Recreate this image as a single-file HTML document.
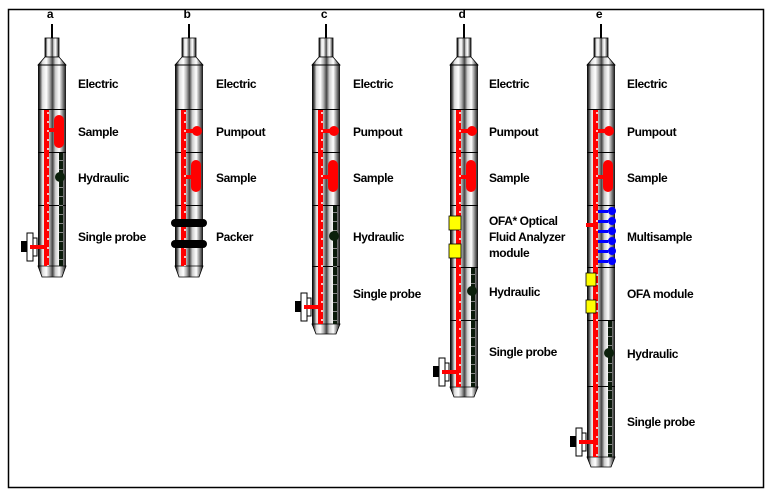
<!DOCTYPE html>
<html><head><meta charset="utf-8"><style>
html,body{margin:0;padding:0;background:#fff;}
svg{display:block;}
text{font-family:"Liberation Sans",Arial,sans-serif;font-weight:bold;font-size:12px;letter-spacing:-0.4px;fill:#000;}
</style></head><body>
<svg width="775" height="495" viewBox="0 0 775 495" xmlns="http://www.w3.org/2000/svg">
<defs>
<linearGradient id="m" x1="0" x2="1" y1="0" y2="0">
<stop offset="0" stop-color="#000"/><stop offset="0.07" stop-color="#444"/><stop offset="0.16" stop-color="#ddd"/>
<stop offset="0.3" stop-color="#fff"/><stop offset="0.42" stop-color="#aaa"/><stop offset="0.52" stop-color="#444"/>
<stop offset="0.62" stop-color="#ccc"/><stop offset="0.76" stop-color="#fff"/><stop offset="0.9" stop-color="#777"/><stop offset="1" stop-color="#111"/>
</linearGradient>
<g id="top">
<rect x="-1" y="24" width="2" height="14" fill="#000"/>
<rect x="-7" y="38" width="14" height="19" fill="url(#m)" stroke="#000" stroke-width="0.8"/>
<polygon points="-7,57 7,57 14,65 -14,65" fill="url(#m)" stroke="#000" stroke-width="0.8"/>
</g>
<g id="probe">
<rect x="-28" y="-4" width="7" height="11" fill="#000"/>
<rect x="-22" y="-12" width="6" height="28" fill="#fff" stroke="#000" stroke-width="1"/>
<rect x="-16" y="-7" width="4" height="18" fill="#fff" stroke="#000" stroke-width="1"/>
<rect x="-19" y="0" width="14" height="4" fill="#f00"/>
</g>
</defs>
<rect x="8.5" y="9.5" width="755" height="478" fill="none" stroke="#000" stroke-width="1.5"/>

<!-- Tool a -->
<g transform="translate(52,0)">
<text x="-2" y="18" text-anchor="middle">a</text>
<use href="#top"/>
<rect x="-14" y="65" width="28" height="201" fill="url(#m)"/>
<polygon points="-14,266 14,266 10,277 -10,277" fill="url(#m)" stroke="#000" stroke-width="0.8"/>
<line x1="-14" y1="65" x2="14" y2="65" stroke="#000"/>
<line x1="-14" y1="109.5" x2="14" y2="109.5" stroke="#000"/>
<line x1="-14" y1="152.5" x2="14" y2="152.5" stroke="#000"/>
<line x1="-14" y1="205.5" x2="14" y2="205.5" stroke="#000"/>
<rect x="-8" y="110" width="5" height="156" fill="#f00"/>
<line x1="-4" y1="112" x2="-4" y2="266" stroke="#fff" stroke-width="1.5" stroke-dasharray="2,7"/>
<rect x="7" y="153" width="4" height="113" fill="#0a1a0a"/>
<line x1="9" y1="160" x2="9" y2="266" stroke="#888" stroke-width="4" stroke-dasharray="1,8"/>
<rect x="-3" y="128" width="8" height="4" fill="#f00"/>
<rect x="2" y="115" width="10" height="33" rx="5" fill="#f00"/>
<circle cx="8" cy="177" r="5" fill="#0b200b"/>
<use href="#probe" transform="translate(-3,245)"/>
</g>
<text x="78" y="88">Electric</text><text x="78" y="136">Sample</text><text x="78" y="182">Hydraulic</text><text x="78" y="241">Single probe</text>

<!-- Tool b -->
<g transform="translate(189,0)">
<text x="-2" y="18" text-anchor="middle">b</text>
<use href="#top"/>
<rect x="-14" y="65" width="28" height="201" fill="url(#m)"/>
<polygon points="-14,266 14,266 10,277 -10,277" fill="url(#m)" stroke="#000" stroke-width="0.8"/>
<line x1="-14" y1="65" x2="14" y2="65" stroke="#000"/>
<line x1="-14" y1="109.5" x2="14" y2="109.5" stroke="#000"/>
<line x1="-14" y1="152.5" x2="14" y2="152.5" stroke="#000"/>
<line x1="-14" y1="205.5" x2="14" y2="205.5" stroke="#000"/>
<rect x="-8" y="110" width="5" height="156" fill="#f00"/>
<line x1="-4" y1="112" x2="-4" y2="266" stroke="#fff" stroke-width="1.5" stroke-dasharray="2,7"/>
<rect x="-3" y="129" width="10" height="4" fill="#f00"/>
<circle cx="8" cy="131" r="5" fill="#f00"/>
<rect x="-3" y="175" width="8" height="4" fill="#f00"/>
<rect x="2" y="160" width="10" height="32" rx="5" fill="#f00"/>
<rect x="-18" y="219" width="36" height="8" rx="4" fill="#000"/>
<rect x="-18" y="240" width="36" height="8" rx="4" fill="#000"/>
</g>
<text x="216" y="88">Electric</text><text x="216" y="136">Pumpout</text><text x="216" y="182">Sample</text><text x="216" y="241">Packer</text>

<!-- Tool c -->
<g transform="translate(326,0)">
<text x="-2" y="18" text-anchor="middle">c</text>
<use href="#top"/>
<rect x="-14" y="65" width="28" height="259" fill="url(#m)"/>
<polygon points="-14,324 14,324 10,334 -10,334" fill="url(#m)" stroke="#000" stroke-width="0.8"/>
<line x1="-14" y1="65" x2="14" y2="65" stroke="#000"/>
<line x1="-14" y1="109.5" x2="14" y2="109.5" stroke="#000"/>
<line x1="-14" y1="152.5" x2="14" y2="152.5" stroke="#000"/>
<line x1="-14" y1="205.5" x2="14" y2="205.5" stroke="#000"/>
<line x1="-14" y1="266.5" x2="14" y2="266.5" stroke="#000"/>
<rect x="-8" y="110" width="5" height="214" fill="#f00"/>
<line x1="-4" y1="112" x2="-4" y2="324" stroke="#fff" stroke-width="1.5" stroke-dasharray="2,7"/>
<rect x="7" y="206" width="4" height="118" fill="#0a1a0a"/>
<line x1="9" y1="212" x2="9" y2="324" stroke="#888" stroke-width="4" stroke-dasharray="1,8"/>
<rect x="-3" y="129" width="10" height="4" fill="#f00"/>
<circle cx="8" cy="131" r="5" fill="#f00"/>
<rect x="-3" y="175" width="8" height="4" fill="#f00"/>
<rect x="2" y="160" width="10" height="32" rx="5" fill="#f00"/>
<circle cx="8" cy="236" r="5" fill="#0b200b"/>
<use href="#probe" transform="translate(-3,305)"/>
</g>
<text x="353" y="88">Electric</text><text x="353" y="136">Pumpout</text><text x="353" y="182">Sample</text><text x="353" y="241">Hydraulic</text><text x="353" y="298">Single probe</text>

<!-- Tool d -->
<g transform="translate(464,0)">
<text x="-2" y="18" text-anchor="middle">d</text>
<use href="#top"/>
<rect x="-14" y="65" width="28" height="322" fill="url(#m)"/>
<polygon points="-14,387 14,387 10,397 -10,397" fill="url(#m)" stroke="#000" stroke-width="0.8"/>
<line x1="-14" y1="65" x2="14" y2="65" stroke="#000"/>
<line x1="-14" y1="109.5" x2="14" y2="109.5" stroke="#000"/>
<line x1="-14" y1="152.5" x2="14" y2="152.5" stroke="#000"/>
<line x1="-14" y1="205.5" x2="14" y2="205.5" stroke="#000"/>
<line x1="-14" y1="267.5" x2="14" y2="267.5" stroke="#000"/>
<line x1="-14" y1="320.5" x2="14" y2="320.5" stroke="#000"/>
<rect x="-8" y="110" width="5" height="277" fill="#f00"/>
<line x1="-4" y1="112" x2="-4" y2="387" stroke="#fff" stroke-width="1.5" stroke-dasharray="2,7"/>
<rect x="7" y="268" width="4" height="119" fill="#0a1a0a"/>
<line x1="9" y1="274" x2="9" y2="387" stroke="#888" stroke-width="4" stroke-dasharray="1,8"/>
<rect x="-3" y="129" width="10" height="4" fill="#f00"/>
<circle cx="8" cy="131" r="5" fill="#f00"/>
<rect x="-3" y="175" width="8" height="4" fill="#f00"/>
<rect x="2" y="160" width="10" height="32" rx="5" fill="#f00"/>
<rect x="-15" y="216" width="12" height="14" fill="#ff0" stroke="#000" stroke-width="0.8"/>
<rect x="-15" y="244" width="12" height="14" fill="#ff0" stroke="#000" stroke-width="0.8"/>
<circle cx="8" cy="291" r="5" fill="#0b200b"/>
<use href="#probe" transform="translate(-3,370)"/>
</g>
<text x="489" y="88">Electric</text><text x="489" y="136">Pumpout</text><text x="489" y="182">Sample</text>
<text x="489" y="225">OFA* Optical</text><text x="489" y="241">Fluid Analyzer</text><text x="489" y="257">module</text>
<text x="489" y="296">Hydraulic</text><text x="489" y="356">Single probe</text>

<!-- Tool e -->
<g transform="translate(601,0)">
<text x="-2" y="18" text-anchor="middle">e</text>
<use href="#top"/>
<rect x="-14" y="65" width="28" height="392" fill="url(#m)"/>
<polygon points="-14,457 14,457 10,467 -10,467" fill="url(#m)" stroke="#000" stroke-width="0.8"/>
<line x1="-14" y1="65" x2="14" y2="65" stroke="#000"/>
<line x1="-14" y1="109.5" x2="14" y2="109.5" stroke="#000"/>
<line x1="-14" y1="152.5" x2="14" y2="152.5" stroke="#000"/>
<line x1="-14" y1="205.5" x2="14" y2="205.5" stroke="#000"/>
<line x1="-14" y1="267.5" x2="14" y2="267.5" stroke="#000"/>
<line x1="-14" y1="320.5" x2="14" y2="320.5" stroke="#000"/>
<line x1="-14" y1="386.5" x2="14" y2="386.5" stroke="#000"/>
<rect x="-8" y="110" width="5" height="347" fill="#f00"/>
<line x1="-4" y1="112" x2="-4" y2="457" stroke="#fff" stroke-width="1.5" stroke-dasharray="2,7"/>
<rect x="7" y="321" width="4" height="136" fill="#0a1a0a"/>
<line x1="9" y1="327" x2="9" y2="457" stroke="#888" stroke-width="4" stroke-dasharray="1,8"/>
<rect x="-3" y="129" width="10" height="4" fill="#f00"/>
<circle cx="8" cy="131" r="5" fill="#f00"/>
<rect x="-3" y="175" width="8" height="4" fill="#f00"/>
<rect x="2" y="160" width="10" height="32" rx="5" fill="#f00"/>
<rect x="-15" y="223" width="8" height="4" fill="#f00"/>
<g fill="#00f">
<rect x="-3" y="210" width="10" height="3"/><circle cx="11" cy="211" r="4"/>
<rect x="-3" y="220" width="10" height="3"/><circle cx="11" cy="221" r="4"/>
<rect x="-3" y="230" width="10" height="3"/><circle cx="11" cy="231" r="4"/>
<rect x="-3" y="240" width="10" height="3"/><circle cx="11" cy="241" r="4"/>
<rect x="-3" y="250" width="10" height="3"/><circle cx="11" cy="251" r="4"/>
<rect x="-3" y="260" width="10" height="3"/><circle cx="11" cy="261" r="4"/>
</g>
<rect x="-15" y="273" width="10" height="13" fill="#ff0" stroke="#000" stroke-width="0.8"/>
<rect x="-15" y="300" width="10" height="13" fill="#ff0" stroke="#000" stroke-width="0.8"/>
<circle cx="8" cy="353" r="5" fill="#0b200b"/>
<use href="#probe" transform="translate(-3,440)"/>
</g>
<text x="627" y="88">Electric</text><text x="627" y="136">Pumpout</text><text x="627" y="182">Sample</text>
<text x="627" y="241">Multisample</text><text x="627" y="298">OFA module</text><text x="627" y="358">Hydraulic</text><text x="627" y="426">Single probe</text>
</svg>
</body></html>
